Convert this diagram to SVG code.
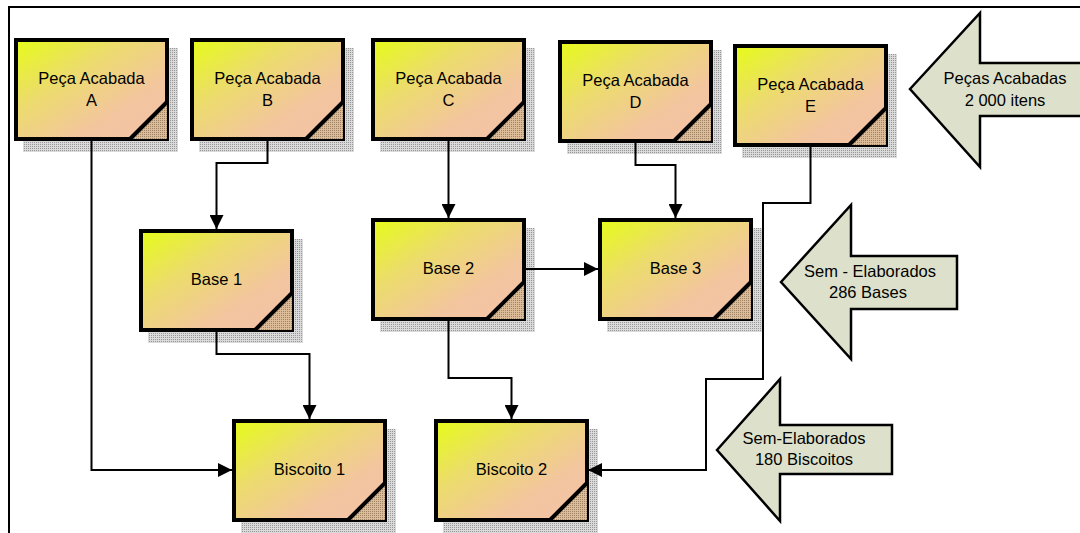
<svg xmlns="http://www.w3.org/2000/svg" width="1080" height="533" viewBox="0 0 1080 533">
<style>
text{font-family:"Liberation Sans",Arial,sans-serif;font-size:16.5px;fill:#000;text-anchor:middle}
.box{fill:url(#grad);stroke:#000;stroke-width:4;stroke-linejoin:miter}
.shadow{fill:url(#dots)}
.fold{fill:url(#hatch)}
.foldline{stroke:#000;stroke-width:4;fill:none}
.conn{fill:none;stroke:#000;stroke-width:2;marker-end:url(#ah)}
.big{fill:#dde0ca;stroke:#000;stroke-width:2.5;stroke-linejoin:miter}
.frame{stroke:#000;stroke-width:2;fill:none}
</style>
<defs>
<linearGradient id="grad" x1="0" y1="0" x2="1" y2="1">
<stop offset="0" stop-color="#e6fc18"/>
<stop offset="0.35" stop-color="#ecdc6c"/>
<stop offset="0.7" stop-color="#f3c59f"/>
<stop offset="1" stop-color="#f4c3a8"/>
</linearGradient>
<pattern id="dots" width="2" height="2" patternUnits="userSpaceOnUse">
<rect width="2" height="2" fill="#dadada"/>
<rect width="1" height="1" fill="#969696"/>
</pattern>
<pattern id="hatch" width="2" height="2" patternUnits="userSpaceOnUse">
<rect width="2" height="2" fill="#dcbc98"/>
<rect width="1" height="1" fill="#a08466"/>
</pattern>
<marker id="ah" markerUnits="userSpaceOnUse" markerWidth="14" markerHeight="14" viewBox="0 0 14 14" refX="14" refY="7" orient="auto">
<path d="M0,0 L14,7 L0,14 z" fill="#000"/>
</marker>
<g id="card">
<rect class="shadow" x="9" y="10" width="155" height="104"/>
<rect class="box" x="2" y="2" width="151" height="99"/>
<path class="fold" d="M153,64 L153,101 L116,101 z"/>
<path class="foldline" d="M153,64 L116,101"/>
</g>
</defs>

<path class="frame" d="M9,533 V7 H1080"/>

<g id="pecaA"><use href="#card" x="14" y="38"/><text x="91.5" y="84">Peça Acabada</text><text x="91.5" y="106">A</text></g>
<g id="pecaB"><use href="#card" x="190" y="38"/><text x="267.5" y="84">Peça Acabada</text><text x="267.5" y="106">B</text></g>
<g id="pecaC"><use href="#card" x="371" y="38"/><text x="448.5" y="84">Peça Acabada</text><text x="448.5" y="106">C</text></g>
<g id="pecaD"><use href="#card" x="558" y="40"/><text x="635.5" y="86">Peça Acabada</text><text x="635.5" y="108">D</text></g>
<g id="pecaE"><use href="#card" x="733" y="44"/><text x="810.5" y="90">Peça Acabada</text><text x="810.5" y="112">E</text></g>

<g id="base1"><use href="#card" x="139" y="229"/><text x="216.5" y="285">Base 1</text></g>
<g id="base2"><use href="#card" x="371" y="218"/><text x="448.5" y="274">Base 2</text></g>
<g id="base3"><use href="#card" x="598" y="218"/><text x="675.5" y="274">Base 3</text></g>

<g id="biscoito1"><use href="#card" x="232" y="419"/><text x="309.5" y="475">Biscoito 1</text></g>
<g id="biscoito2"><use href="#card" x="434" y="419"/><text x="511.5" y="475">Biscoito 2</text></g>

<g id="arrowPecas">
<path class="big" d="M910,89 L980,13 L980,63 L1083,63 L1083,116 L980,116 L980,167 z"/>
<text x="1005" y="84">Peças Acabadas</text><text x="1005" y="106">2 000 itens</text>
</g>
<g id="arrowBases">
<path class="big" d="M781,282 L851,205 L851,256 L957,256 L957,309 L851,309 L851,359 z"/>
<text x="870" y="277">Sem - Elaborados</text><text x="868" y="298">286 Bases</text>
</g>
<g id="arrowBiscoitos">
<path class="big" d="M717,450 L780,379 L780,425 L892,425 L892,474 L780,474 L780,521 z"/>
<text x="804" y="444">Sem-Elaborados</text><text x="804" y="465">180 Biscoitos</text>
</g>

<g id="connectors">
<path class="conn" d="M91.5,141 V470 H232"/>
<path class="conn" d="M267.5,141 V163 H216.5 V229"/>
<path class="conn" d="M448.5,141 V218"/>
<path class="conn" d="M635.5,143 V165 H675.5 V218"/>
<path class="conn" d="M810.5,147 V203 H763 V379 H706 V470 H588"/>
<path class="conn" d="M216.5,332 V354 H309.5 V419"/>
<path class="conn" d="M448.5,321 V378 H511.5 V419"/>
<path class="conn" d="M526,269 H598"/>
</g>
</svg>
